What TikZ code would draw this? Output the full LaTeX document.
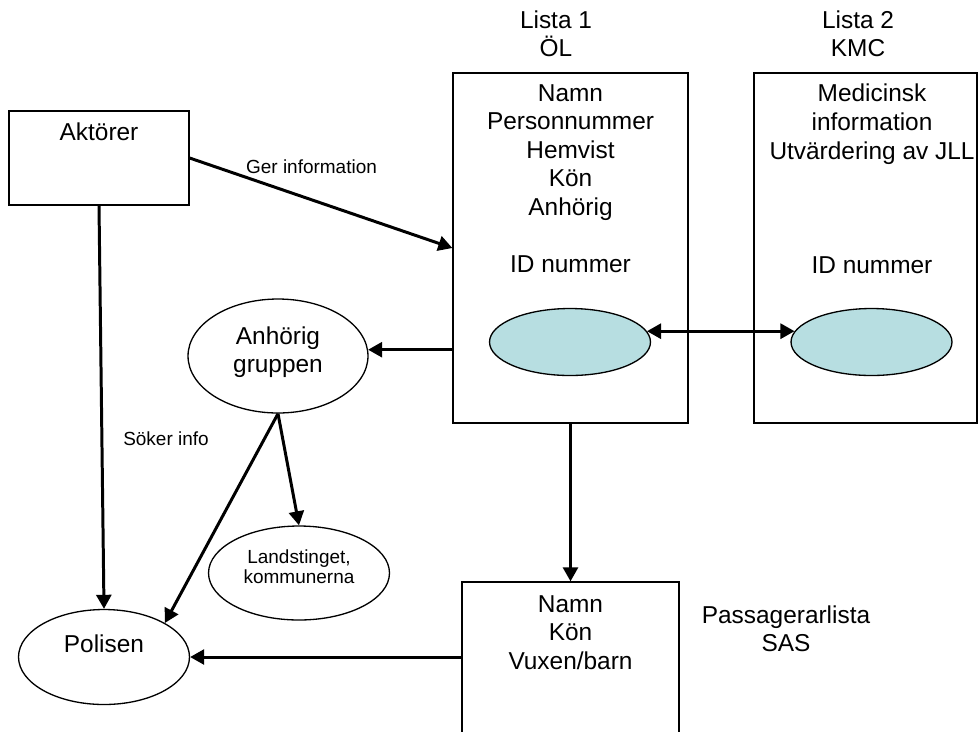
\documentclass[tikz,border=0pt]{standalone}
\usepackage{fontspec}
\setmainfont{Liberation Sans}
\usetikzlibrary{positioning,arrows.meta,shapes.geometric}
\definecolor{light-cyan}{RGB}{183,222,225}
\tikzstyle{boxstyle}=[shape=rectangle,draw,line width=0.75pt,inner sep=0pt]
\tikzstyle{ellstyle}=[shape=ellipse,draw,line width=0.75pt,inner sep=0pt]
\tikzstyle{idstyle}=[ellstyle,fill=light-cyan,minimum width=3.22cm,minimum height=1.34cm]
\tikzstyle{bigtext}=[font=\fontsize{13.9}{16.3}\selectfont,align=center,inner sep=0pt]
\tikzstyle{smalltext}=[font=\fontsize{10.8}{11.5}\selectfont,align=center,inner sep=0pt]
\tikzstyle{flowstyle}=[line width=1.7pt,->]

\begin{document}
\begin{tikzpicture}[x=0.02cm,y=-0.02cm,>={Triangle[length=8pt,width=8.5pt]}]
\useasboundingbox (0,0) rectangle (979,731); %
% boxes
\node [boxstyle,minimum width=3.6cm,minimum height=1.88cm] (akt) at (99,158) {}; %
\node [boxstyle,minimum width=4.7cm,minimum height=7cm] (lista1) at (570.5,248) {}; %
\node [boxstyle,minimum width=4.46cm,minimum height=7cm] (lista2) at (865.5,248) {}; %
\node [boxstyle,minimum width=4.34cm,minimum height=3.4cm] (pas) at (570.5,667) {}; %
\node [bigtext,anchor=north] (akttxt) at ([yshift=-0.24cm]akt.north) {Aktörer}; %
\node [bigtext,anchor=north] (l1txt) at ([yshift=-0.23cm]lista1.north) {Namn\\Personnummer\\Hemvist\\Kön\\Anhörig\\~\\ID nummer}; %
\node [bigtext,anchor=north] (l2txt) at ([xshift=0.13cm,yshift=-0.23cm]lista2.north) {Medicinsk\\information\\Utvärdering av JLL\\~\\~\\~\\ID nummer}; %
\node [bigtext,anchor=north] (pastxt) at ([yshift=-0.27cm]pas.north) {Namn\\Kön\\Vuxen/barn}; %
\node [bigtext,anchor=north] (hdr1) at (556,10) {Lista 1\\ÖL}; %
\node [bigtext,anchor=north] (hdr2) at (858,10) {Lista 2\\KMC}; %
\node [bigtext,anchor=north] (saslbl) at (786,605) {Passagerarlista\\SAS}; %
% ellipses
\node [idstyle] (id1) at (570,342) {}; %
\node [idstyle] (id2) at (871.5,342) {}; %
\node [ellstyle,minimum width=3.6cm,minimum height=2.28cm] (anh) at (278,356) {}; %
\node [bigtext] (anhtxt) at ([yshift=0.08cm]anh.center) {Anhörig\\gruppen}; %
\node [ellstyle,minimum width=3.62cm,minimum height=1.88cm] (land) at (299,573) {}; %
\node [smalltext] (landtxt) at ([yshift=0.13cm]land.center) {Landstinget,\\kommunerna}; %
\node [ellstyle,minimum width=3.42cm,minimum height=1.9cm] (pol) at (104,657) {}; %
\node [bigtext] (poltxt) at ([yshift=0.26cm]pol.center) {Polisen}; %
% labels
\node [smalltext] (gerlbl) at (311.5,167) {Ger information}; %
\node [smalltext] (soklbl) at (166,439) {Söker info}; %
% arrows
\draw [flowstyle] (akt.east) -- (lista1.west); %
\draw [flowstyle] (akt.south) -- (pol.north); %
\draw [flowstyle] (lista1.west |- anh.4) -- (anh.4); %
\draw [flowstyle] (lista1.south) -- (pas.north); %
\draw [flowstyle] (pas.west |- pol.east) -- (pol.east); %
\draw [flowstyle,<->] (id1.8) -- (id2.172); %
\draw [flowstyle] (anh.south) -- (land.north); %
\draw [flowstyle] (anh.south) -- (pol.north east); %
\end{tikzpicture}
\end{document}
